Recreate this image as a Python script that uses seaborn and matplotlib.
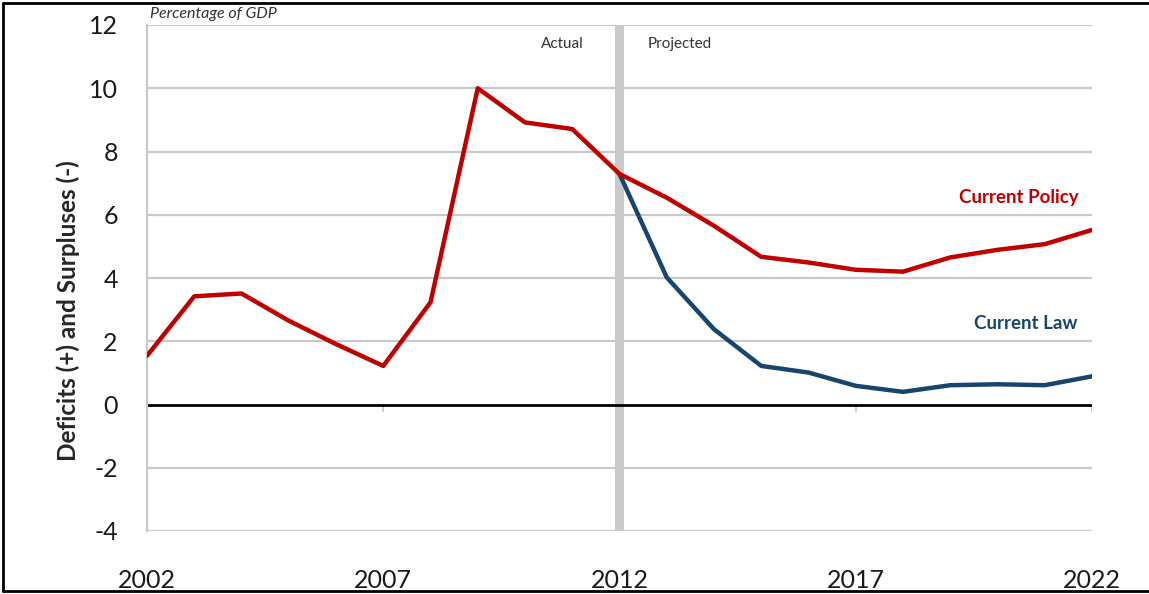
import matplotlib
matplotlib.use("Agg")
import matplotlib.pyplot as plt
from matplotlib.lines import Line2D
import seaborn as sns
import pandas as pd

# Federal deficits as a share of GDP, actual through 2012 and projected after
years_policy = list(range(2002, 2023))
current_policy = [1.54, 3.42, 3.51, 2.65, 1.91, 1.22, 3.23, 10.0, 8.92, 8.71, 7.29,
                  6.54, 5.65, 4.67, 4.49, 4.26, 4.20, 4.65, 4.89, 5.07, 5.52]
years_law = list(range(2012, 2023))
current_law = [7.29, 4.02, 2.38, 1.22, 1.01, 0.59, 0.40, 0.61, 0.64, 0.61, 0.89]

x_ticks = [2002, 2007, 2012, 2017, 2022]
y_ticks = [-4, -2, 0, 2, 4, 6, 8, 10, 12]

RED = "#C00000"
BLUE = "#17456E"
GRID = "#C9C9C9"

sns.set_style("white")
plt.rcParams["font.family"] = ["Lato", "DejaVu Sans"]

df = pd.concat([
    pd.DataFrame({"year": years_policy, "value": current_policy, "series": "Current Policy"}),
    pd.DataFrame({"year": years_law, "value": current_law, "series": "Current Law"}),
])

fig = plt.figure(figsize=(11.49, 5.94), dpi=100)
ax = fig.add_axes([147 / 1149, 1 - 531 / 594, (1092 - 147) / 1149, (531 - 25) / 594])

ax.set_xlim(2002, 2022)
ax.set_ylim(-4, 12)

# horizontal gridlines and the actual/projected divider
for yv in y_ticks:
    if yv != 0:
        ax.axhline(yv, color=GRID, lw=1.6, zorder=1)
ax.axvline(2012, color=GRID, lw=6.5, zorder=1.5)
ax.axhline(0, color="black", lw=2.0, zorder=2)

sns.lineplot(data=df, x="year", y="value", hue="series",
             palette={"Current Policy": RED, "Current Law": BLUE},
             hue_order=["Current Law", "Current Policy"],
             lw=3.2, legend=False, ax=ax, zorder=3)

ax.set_xlabel("")
ax.set_ylabel("Deficits (+) and Surpluses (-)", fontsize=17.5, fontweight="bold")
ax.yaxis.set_label_coords(-0.071, 0.435)

for side in ["top", "right", "bottom"]:
    ax.spines[side].set_visible(False)
ax.spines["left"].set_color(GRID)
ax.spines["left"].set_linewidth(1.6)

ax.set_yticks(y_ticks)
ax.set_yticklabels([str(v) for v in y_ticks])
ax.tick_params(axis="y", length=7, width=1.4, color=GRID, labelsize=18,
               pad=14, labelcolor="#1a1a1a")

ax.set_xticks(x_ticks)
ax.set_xticklabels([str(v) for v in x_ticks])
ax.tick_params(axis="x", length=0, labelsize=18, pad=27, labelcolor="#1a1a1a")

# small tick marks hanging below the zero line
for xv in x_ticks[1:]:
    if xv != 2012:
        ax.plot([xv, xv], [0, -0.2], color=GRID, lw=1.4, zorder=1.8)

ax.text(0.003, 1.022, "Percentage of GDP", transform=ax.transAxes, fontsize=11.5,
        style="italic", color="#333333", ha="left", va="center")
ax.text(2010.78, 11.4, "Actual", fontsize=11, color="#333333", ha="center", va="center")
ax.text(2012.6, 11.4, "Projected", fontsize=11, color="#333333", ha="left", va="center")

box = dict(facecolor="white", edgecolor="none", pad=5)
ax.text(2021.72, 6.56, "Current Policy", color=RED, fontsize=13.5, fontweight="bold",
        ha="right", va="center", bbox=box, zorder=4)
ax.text(2021.70, 2.55, "Current Law", color=BLUE, fontsize=13.5, fontweight="bold",
        ha="right", va="center", bbox=box, zorder=4)

# frame on the top, left and bottom edges
for xs, ys in [([0.003, 1.0], [0.995, 0.995]), ([0.003, 0.003], [0.005, 0.995]),
               ([0.003, 1.0], [0.005, 0.005])]:
    fig.add_artist(Line2D(xs, ys, transform=fig.transFigure, color="black", lw=2))

fig.savefig("out.png", dpi=100, facecolor="white")
